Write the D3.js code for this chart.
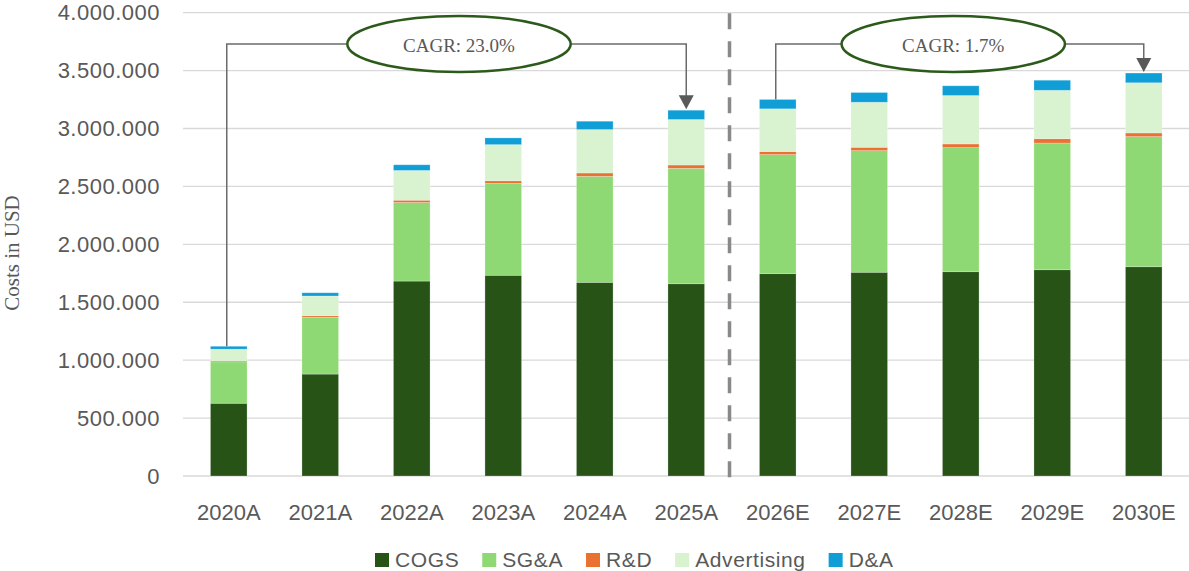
<!DOCTYPE html>
<html>
<head>
<meta charset="utf-8">
<script src="https://cdn.jsdelivr.net/npm/d3@7/dist/d3.min.js"></script>
<style>
  body { margin: 0; background: #fff; }
  svg { display: block; }
</style>
</head>
<body>
<svg id="chart" width="1189" height="571"></svg>
<script>
// Cost breakdown by year (USD), actuals (A) and estimates (E)
const categories = ["2020A", "2021A", "2022A", "2023A", "2024A", "2025A",
                    "2026E", "2027E", "2028E", "2029E", "2030E"];
const cogs        = [628000, 880000, 1683000, 1733000, 1672000, 1660000, 1747000, 1759000, 1764000, 1781000, 1807000];
const sga         = [358000, 490000,  678000,  793000,  915000,  996000, 1028000, 1050000, 1071000, 1094000, 1123000];
const rnd         = [  9000,  14000,   20000,   23000,   29000,   29000,   26000,   29000,   32000,   37000,   32000];
const advertising = [100000, 170000,  257000,  312000,  375000,  393000,  369000,  389000,  418000,  418000,  433000];
const dna         = [ 25000,  28000,   49000,   58000,   72000,   80000,   81000,   84000,   84000,   87000,   84000];

const seriesNames = ["COGS", "SG&A", "R&D", "Advertising", "D&A"];
const seriesValues = [cogs, sga, rnd, advertising, dna];
const seriesColors = ["#275317", "#8ED973", "#E97132", "#D9F2D0", "#0F9ED5"];
const yTicks = [0, 500000, 1000000, 1500000, 2000000, 2500000, 3000000, 3500000, 4000000];
const yTitle = "Costs in USD";

// CAGR callouts: first and last year of each span
const cagrSpans = [
  { from: "2020A", to: "2025A", ellipseShift: 2.5 },
  { from: "2026E", to: "2030E", ellipseShift: -6.5 }
];

const table = categories.map((c, i) => {
  const row = { category: c };
  seriesNames.forEach((s, k) => { row[s] = seriesValues[k][i]; });
  return row;
});

const svg = d3.select("#chart");
const textColor = "#595959";
const sans = "'Liberation Sans', Arial, sans-serif";
const serif = "'Liberation Serif', 'Times New Roman', serif";

const x = d3.scaleBand().domain(categories).range([183, 1189.5])
  .paddingInner(0.6).paddingOuter(0.3);
const y = d3.scaleLinear().domain([0, 4000000]).range([476, 12.7]);
const color = d3.scaleOrdinal().domain(seriesNames).range(seriesColors);

const locale = d3.formatLocale({ decimal: ",", thousands: ".", grouping: [3], currency: ["", ""] });
const tickFmt = locale.format(",");

// horizontal gridlines
svg.append("g")
  .selectAll("line")
  .data(yTicks)
  .join("line")
  .attr("x1", 183).attr("x2", 1189)
  .attr("y1", d => y(d)).attr("y2", d => y(d))
  .attr("stroke", "#d9d9d9").attr("stroke-width", 1.3);

// y axis labels
const yAxis = svg.append("g")
  .attr("transform", "translate(183,0)")
  .call(d3.axisLeft(y).tickValues(yTicks).tickFormat(tickFmt).tickSize(0).tickPadding(23));
yAxis.select(".domain").remove();
yAxis.selectAll("text")
  .attr("fill", textColor)
  .style("font-family", sans)
  .style("font-size", "22px")
  .style("letter-spacing", "0.5px");

// x axis labels
const xAxis = svg.append("g")
  .attr("transform", "translate(0,476)")
  .call(d3.axisBottom(x).tickSize(0).tickPadding(28));
xAxis.select(".domain").remove();
xAxis.selectAll("text")
  .attr("fill", textColor)
  .style("font-family", sans)
  .style("font-size", "22px");

// stacked bars
const stacked = d3.stack().keys(seriesNames)(table);
svg.append("g")
  .selectAll("g")
  .data(stacked)
  .join("g")
  .attr("fill", d => color(d.key))
  .selectAll("rect")
  .data(d => d)
  .join("rect")
  .attr("x", d => x(d.data.category))
  .attr("width", x.bandwidth())
  .attr("y", d => y(d[1]))
  .attr("height", d => y(d[0]) - y(d[1]))
  .attr("stroke", "#ffffff")
  .attr("stroke-opacity", 0.3)
  .attr("stroke-width", 0.8);

// divider between actuals and estimates
const lastActual = categories.filter(c => c.endsWith("A")).pop();
const firstEstimate = categories.find(c => c.endsWith("E"));
const divX = (x(lastActual) + x(firstEstimate) + x.bandwidth()) / 2 - 2.5;
svg.append("line")
  .attr("x1", divX).attr("x2", divX)
  .attr("y1", 13.3).attr("y2", 477.3)
  .attr("stroke", "#898989")
  .attr("stroke-width", 3.5)
  .attr("stroke-dasharray", "16,12");

// CAGR callouts
const totals = new Map(table.map(r => [r.category, d3.sum(seriesNames, s => r[s])]));
const lineY = 44;
const rx = 111.7, ry = 28;
const callouts = svg.append("g");
cagrSpans.forEach(span => {
  const i0 = categories.indexOf(span.from), i1 = categories.indexOf(span.to);
  const v0 = totals.get(span.from), v1 = totals.get(span.to);
  const cagr = Math.pow(v1 / v0, 1 / (i1 - i0)) - 1;
  const xs = x(span.from) + x.bandwidth() / 2 - 2;
  const xe = x(span.to) + x.bandwidth() / 2;
  const cx = (xs + xe) / 2 + span.ellipseShift;
  const tip = y(v1) - 1;

  callouts.append("path")
    .attr("d", `M${xs},${y(v0)} V${lineY} H${cx - rx}`)
    .attr("fill", "none").attr("stroke", "#6b6b6b").attr("stroke-width", 1.5);
  callouts.append("path")
    .attr("d", `M${cx + rx},${lineY} H${xe} V${tip - 13}`)
    .attr("fill", "none").attr("stroke", "#6b6b6b").attr("stroke-width", 1.5);
  callouts.append("path")
    .attr("d", `M${xe - 7.5},${tip - 14} L${xe + 7.5},${tip - 14} L${xe},${tip} Z`)
    .attr("fill", "#595959");
  callouts.append("ellipse")
    .attr("cx", cx).attr("cy", lineY).attr("rx", rx).attr("ry", ry)
    .attr("fill", "#ffffff").attr("stroke", "#2c5a1b").attr("stroke-width", 2.5);
  callouts.append("text")
    .attr("x", cx).attr("y", lineY + 7.5)
    .attr("text-anchor", "middle")
    .attr("fill", textColor)
    .style("font-family", serif)
    .style("font-size", "19px")
    .text("CAGR: " + d3.format(".1f")(cagr * 100) + "%");
});

// y axis title
svg.append("text")
  .attr("transform", "translate(19,253) rotate(-90)")
  .attr("text-anchor", "middle")
  .attr("fill", textColor)
  .style("font-family", serif)
  .style("font-size", "21px")
  .text(yTitle);

// legend
const legend = svg.append("g").attr("transform", "translate(375,0)");
let lx = 0;
seriesNames.forEach(name => {
  const item = legend.append("g").attr("transform", `translate(${lx},0)`);
  item.append("rect")
    .attr("x", 0).attr("y", 553).attr("width", 14).attr("height", 14)
    .attr("fill", color(name));
  const t = item.append("text")
    .attr("x", 20).attr("y", 567)
    .attr("fill", textColor)
    .style("font-family", sans)
    .style("font-size", "21px")
    .style("letter-spacing", "0.6px")
    .text(name);
  lx += 20 + t.node().getComputedTextLength() + 23;
});
</script>
</body>
</html>
